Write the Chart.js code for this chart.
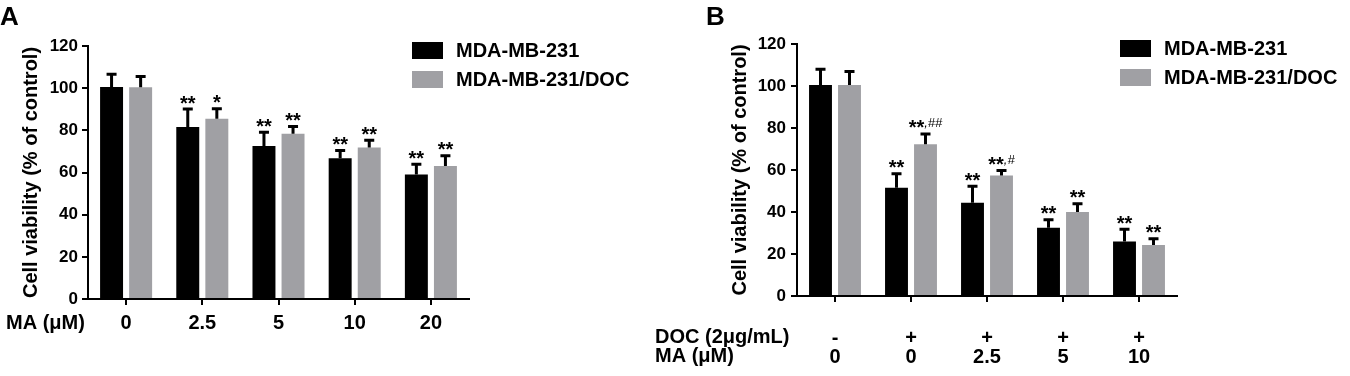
<!DOCTYPE html>
<html>
<head>
<meta charset="utf-8">
<script src="https://cdn.jsdelivr.net/npm/chart.js@4.4.1/dist/chart.umd.min.js"></script>
<style>
  html, body { margin: 0; padding: 0; background: #fff; }
  #wrap { position: relative; width: 1350px; height: 376px; }
  canvas { position: absolute; top: 0; }
  #chartA { left: 0; }
  #chartB { left: 620px; }
</style>
</head>
<body>
<div id="wrap">
  <canvas id="chartA" width="675" height="376"></canvas>
  <canvas id="chartB" width="730" height="376"></canvas>
</div>
<script>
const seriesNames = ['MDA-MB-231', 'MDA-MB-231/DOC'];
const seriesColors = ['#000000', '#a0a0a4'];
const yTicks = [0, 20, 40, 60, 80, 100, 120];

// panel A - MA alone
const maDosesA = ['0', '2.5', '5', '10', '20'];
const a231 = [100.5, 81.6, 72.6, 66.7, 59.1];
const a231Sd = [6.8, 9.2, 7.2, 4.4, 5.5];
const aDoc = [100.4, 85.5, 78.4, 71.8, 63.1];
const aDocSd = [5.8, 5.4, 4.1, 4.2, 5.5];
const a231Marks = ['', '**', '**', '**', '**'];
const aDocMarks = ['', '*', '**', '**', '**'];

// panel B - DOC (2ug/mL) + MA
const docRowB = ['-', '+', '+', '+', '+'];
const maDosesB = ['0', '0', '2.5', '5', '10'];
const b231 = [100.5, 51.6, 44.4, 32.5, 25.9];
const b231Sd = [8.2, 7.3, 8.6, 4.5, 6.6];
const bDoc = [100.5, 72.3, 57.4, 40.0, 24.3];
const bDocSd = [7.1, 5.6, 3.1, 4.6, 3.7];
const b231Marks = ['', '**', '**', '**', '**'];
const bDocMarks = ['', '**,##', '**,#', '**', '**'];

const FONT = '"Liberation Sans", Arial, Helvetica, sans-serif';

// SD bars (upward only) + significance marks
const errorBars = {
  id: 'errorBars',
  afterDatasetsDraw(chart) {
    const ctx = chart.ctx;
    const yScale = chart.scales.y;
    chart.data.datasets.forEach((ds, i) => {
      const meta = chart.getDatasetMeta(i);
      meta.data.forEach((bar, j) => {
        const top = yScale.getPixelForValue(ds.data[j] + ds.sd[j]);
        ctx.save();
        ctx.strokeStyle = '#000';
        ctx.lineWidth = 3;
        ctx.beginPath();
        ctx.moveTo(bar.x, bar.y);
        ctx.lineTo(bar.x, top);
        ctx.moveTo(bar.x - 5, top + 1.5);
        ctx.lineTo(bar.x + 5, top + 1.5);
        ctx.stroke();

        const mark = ds.marks[j];
        if (mark) {
          const parts = mark.split(',');
          const stars = parts[0];
          const rest = parts.length > 1 ? ',' + parts[1] : '';
          ctx.fillStyle = '#000';
          ctx.textBaseline = 'alphabetic';
          ctx.textAlign = 'left';
          ctx.font = 'bold 20px ' + FONT;
          const w1 = ctx.measureText(stars).width;
          ctx.font = 'italic 13px ' + FONT;
          const w2 = rest ? ctx.measureText(rest).width : 0;
          const x0 = bar.x - (w1 + w2) / 2;
          ctx.font = 'bold 20px ' + FONT;
          ctx.fillText(stars, x0, top + 2);
          if (rest) {
            ctx.font = 'italic 13px ' + FONT;
            ctx.fillText(rest, x0 + w1, top - 5);
          }
        }
        ctx.restore();
      });
    });
  }
};

// legend, panel letter and row titles under the x axis
const panelText = {
  id: 'panelText',
  afterDraw(chart, args, opts) {
    const ctx = chart.ctx;
    const area = chart.chartArea;
    ctx.save();
    ctx.fillStyle = '#000';

    const bx = area.right - 57;
    const by = area.top - 4;
    chart.data.datasets.forEach((ds, i) => {
      ctx.fillStyle = ds.backgroundColor;
      ctx.fillRect(bx, by + i * 29, 31, 17);
      ctx.fillStyle = '#000';
      ctx.font = 'bold 20px ' + FONT;
      ctx.textBaseline = 'middle';
      ctx.textAlign = 'left';
      ctx.fillText(ds.label, bx + 44, by + i * 29 + 9);
    });

    ctx.font = 'bold 26px ' + FONT;
    ctx.textBaseline = 'alphabetic';
    ctx.fillText(opts.letter, opts.letterX, 25);

    ctx.font = 'bold 20px ' + FONT;
    ctx.textBaseline = 'middle';
    opts.rows.forEach(r => {
      ctx.fillText(r.text, opts.rowX, area.bottom + r.dy);
    });
    ctx.restore();
  }
};

function makeChart(id, labels, s1, sd1, m1, s2, sd2, m2, cfg) {
  return new Chart(document.getElementById(id), {
    type: 'bar',
    data: {
      labels: labels,
      datasets: [
        { label: seriesNames[0], data: s1, sd: sd1, marks: m1, backgroundColor: seriesColors[0] },
        { label: seriesNames[1], data: s2, sd: sd2, marks: m2, backgroundColor: seriesColors[1] }
      ]
    },
    options: {
      responsive: false,
      animation: false,
      devicePixelRatio: 1,
      categoryPercentage: 0.763,
      barPercentage: 0.79,
      layout: { padding: { top: cfg.top, right: cfg.right, bottom: 0, left: 0 } },
      plugins: {
        legend: { display: false },
        tooltip: { enabled: false },
        panelText: { letter: cfg.letter, letterX: cfg.letterX, rowX: cfg.rowX, rows: cfg.rows }
      },
      scales: {
        x: {
          afterFit: (s) => { s.height = cfg.xHeight; },
          border: { display: true, color: '#000', width: 2 },
          grid: { offset: false, drawOnChartArea: false, drawTicks: true, tickLength: 6, color: '#000', lineWidth: 2 },
          ticks: {
            color: '#000',
            padding: cfg.xPad,
            font: { family: FONT, size: 20, weight: 'bold', lineHeight: cfg.xLine }
          }
        },
        y: {
          min: yTicks[0],
          max: yTicks[yTicks.length - 1],
          afterFit: (s) => { s.width = cfg.yWidth; },
          border: { display: true, color: '#000', width: 2 },
          grid: { drawOnChartArea: false, drawTicks: true, tickLength: 6, color: '#000', lineWidth: 2 },
          ticks: {
            stepSize: yTicks[1] - yTicks[0],
            color: '#000',
            padding: cfg.yPad,
            font: { family: FONT, size: 17, weight: 'bold' }
          },
          title: {
            display: true,
            text: 'Cell viability (% of control)',
            color: '#000',
            padding: { top: cfg.titlePad, bottom: 0 },
            font: { family: FONT, size: 20, weight: 'bold' }
          }
        }
      }
    },
    plugins: [errorBars, panelText]
  });
}

makeChart('chartA', maDosesA, a231, a231Sd, a231Marks, aDoc, aDocSd, aDocMarks, {
  top: 46, right: 206, xHeight: 77, yWidth: 88, xPad: 6, xLine: 1.2, yPad: 4, titlePad: 19,
  letter: 'A', letterX: 0, rowX: 6,
  rows: [{ text: 'MA (\u03bcM)', dy: 24 }]
});

makeChart('chartB', docRowB.map((d, i) => [d, maDosesB[i]]), b231, b231Sd, b231Marks, bDoc, bDocSd, bDocMarks, {
  top: 44, right: 173, xHeight: 80, yWidth: 177, xPad: 27, xLine: 0.95, yPad: 5, titlePad: 108,
  letter: 'B', letterX: 86, rowX: 35,
  rows: [{ text: 'DOC (2\u03bcg/mL)', dy: 41 }, { text: 'MA (\u03bcM)', dy: 60 }]
});
</script>
</body>
</html>
